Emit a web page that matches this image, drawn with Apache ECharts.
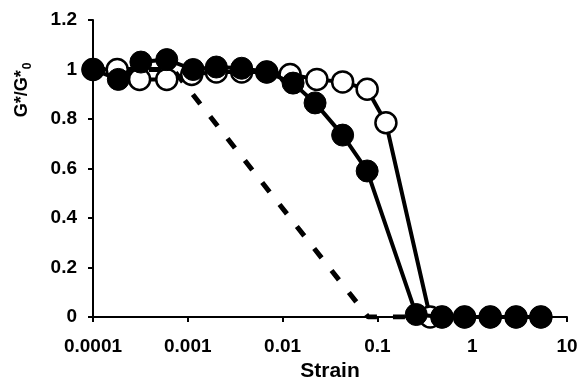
<!DOCTYPE html>
<html>
<head>
<meta charset="utf-8">
<script src="https://cdn.jsdelivr.net/npm/echarts@6/dist/echarts.min.js"></script>
<style>html,body{margin:0;padding:0;background:#fff}#main{width:579px;height:380px}</style>
</head>
<body>
<div id="main"></div>
<script>
// strain values and G*/G*0
var filledStrain = [0.0001, 0.000185, 0.00032, 0.0006, 0.00114, 0.002, 0.0037, 0.0068, 0.0129, 0.022, 0.043, 0.078, 0.257, 0.48, 0.83, 1.55, 2.9, 5.3];
var filledG      = [1.0,    0.96,     1.03,    1.04,   1.0,     1.01,  1.005,  0.99,   0.945,  0.865, 0.735, 0.59,  0.01,  0.0,  0.0,  0.0,  0.0, 0.0];
var openStrain = [0.0001, 0.00018, 0.00031, 0.0006, 0.0011, 0.002, 0.0037, 0.0068, 0.012, 0.023, 0.043, 0.078, 0.123, 0.36, 0.48, 0.83, 1.55, 2.9, 5.3];
var openG      = [1.0,    1.0,     0.96,    0.96,   0.98,   0.99,  0.99,   0.99,   0.98,  0.96,  0.95,  0.92,  0.785, 0.0,  0.0,  0.0,  0.0,  0.0, 0.0];
var dashStrain = [0.0001, 0.0007, 0.08, 0.35];
var dashG      = [1.0,    1.0,    0.0,  0.0];
var xTicks = [0.0001, 0.001, 0.01, 0.1, 1, 10];

function pairs(xs, ys) {
    return xs.map(function (x, i) { return [x, ys[i]]; });
}

var myChart = echarts.init(document.getElementById('main'));
var font = 'Liberation Sans, Arial, sans-serif';

var option = {
    animation: false,
    grid: { left: 93, right: 12, top: 20, bottom: 63, outerBoundsMode: 'none', containLabel: false },
    // y axis title sits high on the left, drawn rotated
    graphic: [{
        type: 'text',
        x: 22,
        y: 90,
        rotation: Math.PI / 2,
        style: {
            text: 'G*/G*{s|0}',
            fontFamily: font, fontWeight: 'bold', fontSize: 18, fill: '#000',
            align: 'center', verticalAlign: 'middle',
            rich: { s: { fontFamily: font, fontWeight: 'bold', fontSize: 12, fill: '#000', padding: [11, 0, 0, 1] } }
        }
    }],
    xAxis: {
        type: 'log',
        logBase: 10,
        min: xTicks[0],
        max: xTicks[xTicks.length - 1],
        name: 'Strain',
        nameLocation: 'middle',
        nameGap: 44,
        nameTextStyle: { fontFamily: font, fontWeight: 'bold', fontSize: 21, color: '#000' },
        axisLine: { lineStyle: { color: '#000', width: 2 } },
        axisTick: { show: true, length: 5, lineStyle: { color: '#000', width: 2 } },
        minorTick: { show: false },
        splitLine: { show: false },
        axisLabel: {
            fontFamily: font, fontWeight: 'bold', fontSize: 19, color: '#000', margin: 20,
            formatter: function (v) { return String(+(+v).toPrecision(1)); }
        }
    },
    yAxis: {
        type: 'value',
        min: 0,
        max: 1.2,
        interval: 0.2,
        axisLine: { show: true, lineStyle: { color: '#000', width: 2 } },
        axisTick: { show: true, length: 5, lineStyle: { color: '#000', width: 2 } },
        splitLine: { show: false },
        axisLabel: { fontFamily: font, fontWeight: 'bold', fontSize: 19, color: '#000', margin: 16 }
    },
    series: [
        {
            type: 'line',
            data: pairs(dashStrain, dashG),
            symbol: 'none',
            lineStyle: { color: '#000', width: 5, type: [12, 16] },
            z: 1
        },
        {
            type: 'line',
            data: pairs(openStrain, openG),
            symbol: 'circle',
            symbolSize: 21,
            itemStyle: { color: '#fff', borderColor: '#000', borderWidth: 2.5 },
            lineStyle: { color: '#000', width: 4 },
            z: 2
        },
        {
            type: 'line',
            data: pairs(filledStrain, filledG),
            symbol: 'circle',
            symbolSize: 22,
            itemStyle: { color: '#000', borderColor: '#000', borderWidth: 1 },
            lineStyle: { color: '#000', width: 4 },
            z: 3
        }
    ]
};
myChart.setOption(option);
</script>
</body>
</html>
